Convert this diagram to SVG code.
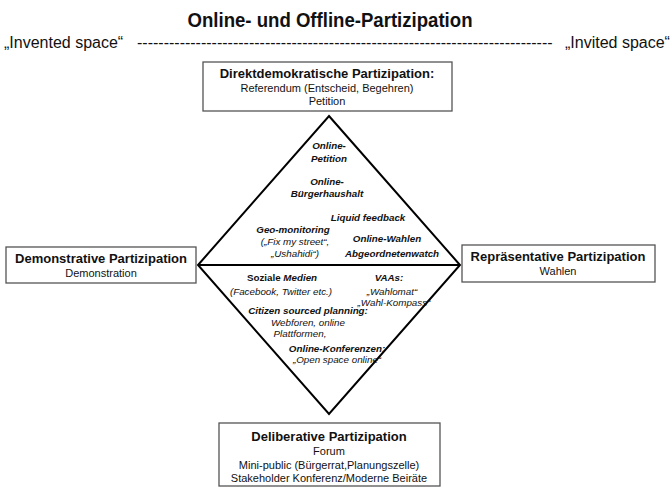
<svg xmlns="http://www.w3.org/2000/svg" width="671" height="488" viewBox="0 0 671 488">
<style>
text{font-family:"Liberation Sans",Arial,sans-serif;fill:#111;text-anchor:middle}
.box{fill:#fff;stroke:#555;stroke-width:1.3}
.h{font-weight:bold;font-size:13px}
.s{font-size:11px}
.bi{font-weight:bold;font-style:italic;font-size:9.8px}
.i{font-style:italic;font-size:9.8px}
.b{font-weight:bold;font-size:9.8px}
.edge{fill:none;stroke:#000;stroke-width:2}
.row{font-size:16px;text-anchor:start}
</style>
<rect width="671" height="488" fill="#fff"/>
<text x="330" y="27" style="font-weight:bold;font-size:20px" textLength="285" lengthAdjust="spacingAndGlyphs">Online- und Offline-Partizipation</text>
<text class="row" x="4" y="48">„Invented space“</text>
<text class="row" x="137" y="48">------------------------------------------------------------------------------</text>
<text class="row" x="565" y="48">„Invited space“</text>
<g id="connectors">
<path class="edge" d="M329,116 L460,265 L329,414 L198,265 Z M198,265 L460,265"/>
</g>
<g id="direkt">
<rect class="box" x="203" y="62" width="249" height="49"/>
<text class="h" x="327" y="78">Direktdemokratische Partizipation:</text>
<text class="s" x="327" y="92">Referendum (Entscheid, Begehren)</text>
<text class="s" x="327" y="105">Petition</text>
</g>
<g id="demonstrativ">
<rect class="box" x="6" y="247" width="190" height="36"/>
<text class="h" x="101" y="263">Demonstrative Partizipation</text>
<text class="s" x="101" y="277">Demonstration</text>
</g>
<g id="repraesentativ">
<rect class="box" x="462" y="245" width="193" height="37"/>
<text class="h" x="558" y="261">Repräsentative Partizipation</text>
<text class="s" x="558" y="275">Wahlen</text>
</g>
<g id="deliberativ">
<rect class="box" x="219" y="423" width="221" height="63"/>
<text class="h" x="329" y="441">Deliberative Partizipation</text>
<text class="s" x="329" y="455">Forum</text>
<text class="s" x="329" y="469">Mini-public (Bürgerrat,Planungszelle)</text>
<text class="s" x="329" y="482">Stakeholder Konferenz/Moderne Beiräte</text>
</g>
<g id="online-labels">
<text class="bi" x="329" y="149">Online-</text>
<text class="bi" x="329" y="162">Petition</text>
<text class="bi" x="327" y="185">Online-</text>
<text class="bi" x="327" y="197">Bürgerhaushalt</text>
<text class="bi" x="368" y="221">Liquid feedback</text>
<text class="bi" x="293" y="233">Geo-monitoring</text>
<text class="i" x="295" y="245">(„Fix my street“,</text>
<text class="i" x="295" y="257">„Ushahidi“)</text>
<text class="bi" x="387" y="242">Online-Wahlen</text>
<text class="bi" x="392" y="257">Abgeordnetenwatch</text>
<text class="b" x="282" y="281">Soziale <tspan font-style="italic">Medien</tspan></text>
<text class="i" x="281" y="295">(Facebook, Twitter etc.)</text>
<text class="bi" x="389" y="281">VAAs:</text>
<text class="i" x="392" y="295">„Wahlomat“</text>
<text class="i" x="394" y="306">„Wahl-Kompass“</text>
<text class="bi" x="308" y="314">Citizen sourced planning:</text>
<text class="i" x="308" y="326">Webforen, online</text>
<text class="i" x="300" y="337">Plattformen,</text>
<text class="bi" x="337" y="352">Online-Konferenzen:</text>
<text class="i" x="337" y="363">„Open space online“</text>
</g>
</svg>
